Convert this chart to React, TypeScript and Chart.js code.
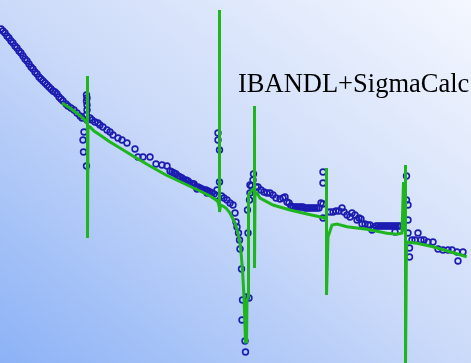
import React, { useEffect, useRef } from "react";
import { Chart, registerables } from "chart.js";

Chart.register(...registerables);

// Calculated excitation function (IBANDL + SigmaCalc), energy vs cross section (plot units)
const calcEnergy = [62, 70, 78, 84, 86, 87.5, 87.5, 87.5, 88, 90, 94, 100, 110, 120, 133, 150, 166, 183, 200, 210, 216, 218, 219.5, 219.5, 219.5, 220.5, 223, 226, 230, 235, 238, 240.5, 242.5, 244, 245.5, 246.5, 247, 248.5, 248.5, 252, 254.5, 254.5, 254.5, 255, 257, 260, 273, 290, 307, 323, 326.5, 326.5, 326.5, 328, 332, 337, 347, 367, 387, 397, 402, 403.5, 404, 405.5, 405.5, 405.5, 406.5, 417, 433, 450, 466.7];
const calcSigma = [103, 108, 114, 119, 122, 124, 76, 238, 126, 127, 131, 135, 142, 148, 156, 166, 175, 183, 191, 196, 200, 202, 208, 10, 212, 205, 206, 208, 213, 223, 233, 246, 270, 297, 342, 342, 300, 296, 195, 190, 188, 106, 268, 195, 193, 198, 205, 210, 214, 217.5, 219, 168, 295, 237, 225, 224, 226.7, 229.3, 233.3, 234.3, 233, 182, 230, 230, 165, 366, 242, 243.3, 246.7, 251.7, 256.7];

// Measured data points [energy, cross section]
const measured: [number, number][] = [
  [1, 29], [3, 31], [5, 33], [7, 36], [9, 38], [11, 41], [13, 43], [15, 46], [17, 48], [19, 51], [21, 53], [23, 56], [25, 59], [27, 61], [29, 64], [31, 67], [33, 69], [35, 72], [37, 74], [39, 77], [41, 79], [43, 81], [45, 83], [47, 85], [49, 87], [51, 89], [53, 91], [55, 92], [57, 94], [59, 97], [61, 99], [63, 101], [66, 104], [68, 106], [71, 108], [74, 110], [77, 113], [80, 116], [82, 118],
  [86.5, 95], [87, 98], [86.5, 101], [87, 105], [87, 110], [86.5, 115], [87, 120], [84, 132], [83, 140], [83.5, 152], [86.5, 166],
  [90, 118], [92, 120], [95, 122], [98, 123], [100, 125], [103, 127], [107, 130], [110, 132], [113, 135], [118, 138], [122, 140], [127, 143], [135, 149], [138, 157], [143, 157], [150, 157], [156, 164], [162, 165], [167, 166], [170, 171], [172, 172], [174, 173], [176, 174], [178, 176], [180, 177], [182, 178], [184, 180], [186, 180], [188, 181], [190, 183], [192, 184], [194, 184], [196, 187], [198, 187], [200, 188], [202, 189], [204, 190], [206, 190], [208, 191], [210, 192], [212, 193], [214, 194], [216, 196], [183, 180], [193, 184], [197, 189], [207, 193],
  [218, 133], [218, 140], [219.5, 150], [219.5, 182], [217, 190],
  [221.5, 196], [224, 198], [227, 200], [230, 203], [233, 205], [235, 213], [236, 222], [237, 227], [238.5, 233], [239.5, 240], [240, 249], [241.5, 269], [242.5, 300], [242, 320], [245, 341], [245.5, 352], [246.5, 297], [249, 298], [248, 233], [247.5, 210], [249.5, 200], [250, 193], [251.5, 186], [253, 180], [253.5, 174], [250, 185],
  [256, 187], [258, 187], [261, 190], [264, 192], [267, 193], [270, 193], [273, 195], [276, 198], [280, 199], [283, 198], [285, 197], [287, 202], [289, 203], [291, 206], [293, 207], [295, 207], [297, 207], [299, 207], [301, 207], [303, 207], [305, 208], [307, 208], [309, 208], [311, 208], [313, 208], [315, 208], [317, 208], [319, 208], [321, 203],
  [323, 172], [323, 183], [323, 204], [323, 218],
  [330, 212], [333, 212], [336, 211], [339, 211], [342, 208], [344, 212], [347, 215], [350, 217], [352, 213], [355, 215], [357, 220], [359, 218], [361, 219], [362, 224], [365, 224], [368, 225], [370, 225], [372, 230], [374, 228], [376, 226], [378, 226], [380, 226], [382, 226], [384, 226], [386, 226], [388, 226], [390, 226], [392, 226], [394, 226], [396, 226], [398, 226], [400, 226], [395, 232],
  [406.5, 176], [406.5, 200], [408, 205], [408, 220], [408, 233], [409.5, 248], [409.5, 257],
  [412, 240], [415, 240], [418, 233], [421, 240], [424, 240], [428, 242], [433, 242], [438, 249], [443, 250], [448, 250], [452, 250], [457, 252], [458, 261], [463, 252],
];

const labelText = "IBANDL+SigmaCalc";

export default function App() {
  const canvasRef = useRef<HTMLCanvasElement | null>(null);

  useEffect(() => {
    const canvas = canvasRef.current;
    if (!canvas) return;
    const chart = new Chart(canvas, {
      type: "line",
      data: {
        datasets: [
          {
            label: "calc",
            data: calcEnergy.map((x, i) => ({ x, y: calcSigma[i] })),
            borderColor: "#1fb51f",
            borderWidth: 3,
            pointRadius: 0,
            fill: false,
            tension: 0,
            order: 0,
          },
          {
            label: "exp",
            data: measured.map(([x, y]) => ({ x, y })),
            showLine: false,
            borderColor: "#1c1cb2",
            backgroundColor: "rgba(0,0,0,0)",
            pointRadius: 2.9,
            pointBorderWidth: 1.6,
            pointStyle: "circle",
            order: 1,
          },
        ],
      },
      options: {
        animation: false,
        responsive: false,
        maintainAspectRatio: false,
        layout: { padding: 0, autoPadding: false },
        plugins: { legend: { display: false }, tooltip: { enabled: false }, title: { display: false } },
        scales: {
          x: { type: "linear", display: false, min: 0, max: 471 },
          y: { type: "linear", display: false, min: 0, max: 363, reverse: true },
        },
      },
    });
    return () => chart.destroy();
  }, []);

  return (
    <div
      style={{
        position: "absolute",
        left: 0,
        top: 0,
        width: 471,
        height: 363,
        overflow: "hidden",
        background: "linear-gradient(to top right, #8cb2f6 0%, #cbdaf9 50%, #f4f7fe 100%)",
      }}
    >
      <canvas ref={canvasRef} width={471} height={363} style={{ position: "absolute", left: 0, top: 0 }} />
      <div
        style={{
          position: "absolute",
          left: 238,
          top: 70,
          fontFamily: "'Liberation Serif', 'Times New Roman', serif",
          fontSize: 26.5,
          lineHeight: "27px",
          color: "#000",
          whiteSpace: "nowrap",
        }}
      >
        {labelText}
      </div>
    </div>
  );
}
